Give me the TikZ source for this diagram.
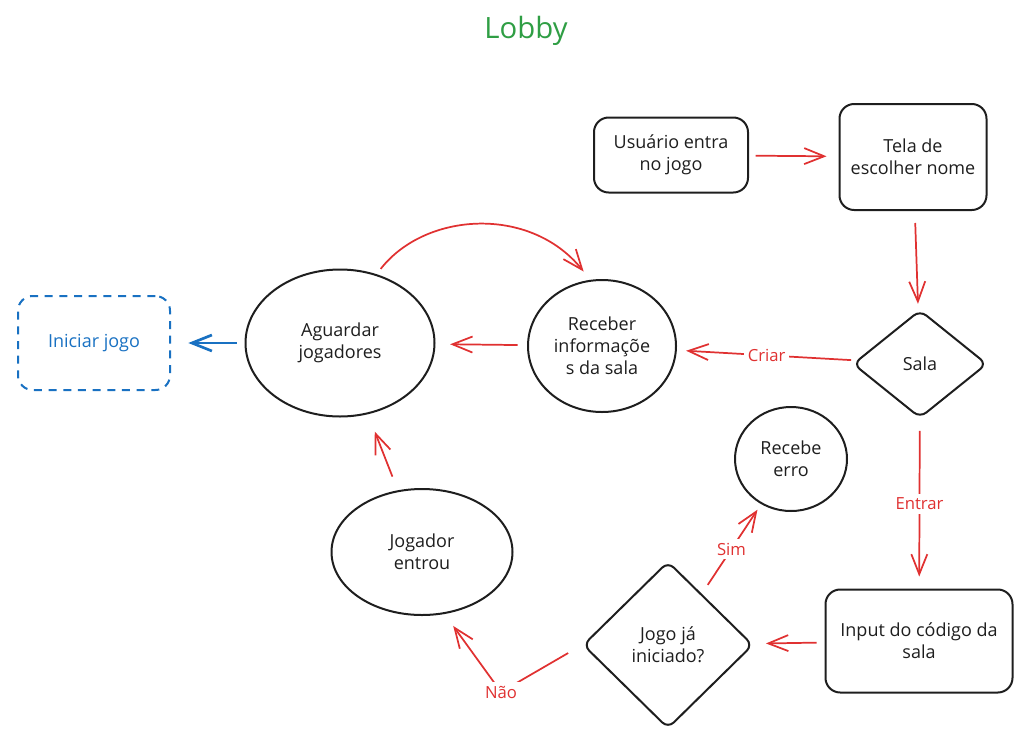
\documentclass[tikz,border=0pt]{standalone}
\usepackage{fontspec}
\setmainfont{Open Sans}
\usetikzlibrary{shapes.geometric,arrows.meta}
\definecolor{ink}{HTML}{1E1E1E}
\definecolor{rd}{HTML}{E03131}
\definecolor{bl}{HTML}{1971C2}
\definecolor{gr}{HTML}{2F9E44}
\begin{document}
\begin{tikzpicture}[x=0.75pt,y=-0.75pt,
  txt/.style={align=center,text=ink,font=\fontsize{13.5}{16.5}\selectfont,inner sep=0pt},
  box/.style={txt,draw=ink,line width=1.5pt,rounded corners=11pt},
  oval/.style={txt,ellipse,draw=ink,line width=1.5pt},
  dia/.style={txt,diamond,draw=ink,line width=1.5pt,rounded corners=6pt},
  flow/.style={draw=rd,line width=1.3pt,-{Straight Barb[length=15pt,width=12pt]}},
  lbl/.style={text=rd,fill=white,font=\fontsize{12.5}{14}\selectfont,inner sep=3pt}]
\useasboundingbox (0,0) rectangle (1021,743);

\node[text=gr,font=\fontsize{22}{26}\selectfont] (title) at (526,31) {Lobby};

\node[box,minimum width=115.5pt,minimum height=56.25pt] (usuario) at (671,155) {Usuário entra\\no jogo};
\node[box,minimum width=110.25pt,minimum height=79.5pt] (tela) at (913,157) {Tela de\\escolher nome};
\node[dia,minimum width=100.5pt,minimum height=81pt] (sala) at (920,364) {Sala};
\node[oval,minimum width=111pt,minimum height=99pt] (receber) at (602,346) {Receber\\informaçõe\\s da sala};
\node[oval,minimum width=141.75pt,minimum height=110.25pt] (aguardar) at (340,343) {Aguardar\\jogadores};
\node[box,draw=bl,text=bl,dash pattern=on 6pt off 5pt,minimum width=114pt,minimum height=70.5pt] (iniciar) at (94,343) {Iniciar jogo};
\node[oval,minimum width=84pt,minimum height=78pt] (erro) at (791,459) {Recebe\\erro};
\node[oval,minimum width=135.75pt,minimum height=94.5pt] (jogador) at (422,552) {Jogador\\entrou};
\node[dia,minimum width=127.5pt,minimum height=125.25pt] (jogo) at (668,645) {Jogo já\\iniciado?};
\node[box,minimum width=140.25pt,minimum height=77.25pt] (input) at (919,641) {Input do código da\\sala};

\draw[flow,shorten <=5pt,shorten >=9pt] (usuario) -- (tela);
\draw[flow,shorten <=9pt,shorten >=5pt] (tela) -- (sala);
\draw[flow,shorten <=4pt,shorten >=7pt] (sala) -- node[lbl]{Criar} (receber);
\draw[flow,shorten <=7pt,shorten >=11pt] (receber) -- (aguardar);
\draw[flow,draw=bl,line width=2pt,shorten <=6pt,shorten >=13pt] (aguardar) -- (iniciar);
\draw[flow,shorten <=5pt,shorten >=8pt] (aguardar.62) .. controls (425,212) and (530,205) .. (receber.100);
\draw[flow,shorten <=9pt,shorten >=9pt] (sala) -- node[lbl]{Entrar} (input);
\draw[flow,shorten <=6pt,shorten >=10pt] (input) -- (jogo);
\draw[flow,shorten <=8pt,shorten >=5pt] (jogo) -- node[lbl]{Sim} (erro);
\coordinate (bend) at (501,692);
\draw[flow,shorten <=12pt,shorten >=11pt] (jogo.west) -- (bend) node[lbl]{Não} -- (jogador.-70);
\draw[flow,shorten <=11pt,shorten >=14pt] (jogador) -- (aguardar);
\end{tikzpicture}
\end{document}
